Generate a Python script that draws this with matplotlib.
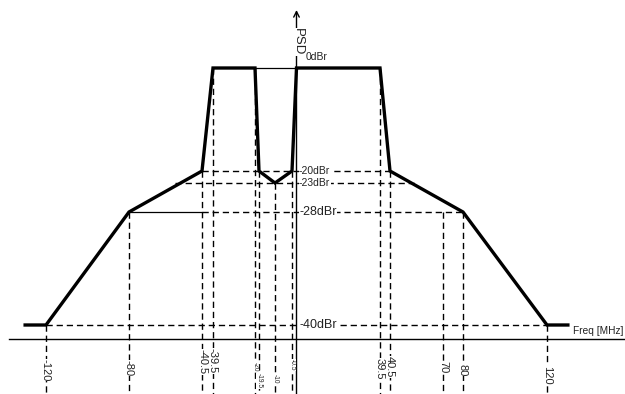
#!/usr/bin/env python3
"""
Spectrum mask sketch: relative PSD (dBr) against frequency offset (MHz)
"""

import numpy as np
import matplotlib.pyplot as plt

# Mask corner points: frequency offset [MHz] and level [dBr]
mask_freq = [-130, -120, -80, -40.5, -39.5, -20, -19.5, -10, -0.5, 0, 39.5, 40.5, 80, 120, 130]
mask_level = [-40, -40, -28, -20, 0, 0, -20, -23, -20, 0, 0, -20, -28, -40, -40]

# Frequencies marked under the axis, and the level their guide line starts from
tick_freq = [-120, -80, -40.5, -39.5, -20, -19.5, -10, -0.5, 39.5, 40.5, 70, 80, 120]
tick_level = [-40, -28, -20, 0, 0, -20, -23, -20, 0, -20, -28, -28, -40]
tick_text = ['-120', '-80', '-40.5', '-39.5', '-20', '-19.5', '-10', '-0.5',
             '39.5', '40.5', '70', '80', '120']

# Reference levels written next to the PSD axis
level_db = [0, -20, -23, -28, -40]
level_text = ['0dBr', '-20dBr', '-23dBr', '-28dBr', '-40dBr']

# The sketch is not to scale: piecewise-linear axes, anchors read off the picture
yscale_db = [-100, -40, -28, -23, -20, 0, 60]
yscale_pos = [-138, 69, 182, 211, 223, 326, 626]
xscale_mhz = [-200, -120, -80, -40.5, -39.5, -20, -19.5, -10, -0.5, 0,
              39.5, 40.5, 70, 80, 120, 200]
xscale_pos = [-121, 46, 129, 202, 213, 255, 259, 275, 292, 296.5,
              380, 390, 443, 463, 547, 714]


def yfwd(v):
    return np.interp(v, yscale_db, yscale_pos)


def yinv(v):
    return np.interp(v, yscale_pos, yscale_db)


def xfwd(v):
    return np.interp(v, xscale_mhz, xscale_pos)


def xinv(v):
    return np.interp(v, xscale_pos, xscale_mhz)


def main():
    plt.rcParams['font.family'] = ['Liberation Sans', 'DejaVu Sans']
    W, H = 625, 394
    fig = plt.figure(figsize=(W / 100, H / 100), dpi=100)
    ax = fig.add_axes([0, 0, 1, 1])
    ax.set_yscale('function', functions=(yfwd, yinv))
    ax.set_xscale('function', functions=(xfwd, xinv))
    ax.set_xlim(xinv(0), xinv(W))
    ax.set_ylim(-60, 13.6)
    ax.axis('off')

    xt = ax.get_xaxis_transform()  # x in MHz, y in axes fraction

    def py(ypix):
        return 1 - ypix / H

    dash = dict(color='black', lw=1.0, linestyle=(0, (4.5, 2.8)), zorder=1)
    thin = dict(color='black', lw=0.9, zorder=1)
    ink = '#222222'

    # outer slopes of the mask, used to find where each level line ends
    left_lv = mask_level[1:5]
    left_f = mask_freq[1:5]
    right_lv = mask_level[10:14][::-1]
    right_f = mask_freq[10:14][::-1]

    def span(lv):
        return np.interp(lv, left_lv, left_f), np.interp(lv, right_lv, right_f)

    # horizontal guides
    ax.plot([mask_freq[5], mask_freq[9]], [0, 0], **thin)
    for lv in [-20, -23, -40]:
        a, b = span(lv)
        ax.plot([a, b], [lv, lv], **dash)
    a28, b28 = span(-28)
    a20, _ = span(-20)
    ax.plot([a28, a20], [-28, -28], **thin)
    ax.plot([a20, b28], [-28, -28], **dash)

    # vertical guides down to the bottom edge
    for f, lv in zip(tick_freq, tick_level):
        ax.plot([f, f], [lv, -60], **dash)

    # frequency axis
    ax.plot([xinv(9), xinv(W)], [py(339), py(339)], transform=xt,
            color='black', lw=1.0, zorder=2)
    # PSD axis with arrow
    ax.annotate('', xy=(0, py(10)), xytext=(0, 0), xycoords=xt, textcoords=xt,
                arrowprops=dict(arrowstyle='->', lw=1.0, color='black',
                                shrinkA=0, shrinkB=0, mutation_scale=10),
                zorder=2)
    ax.text(0.5, py(42), 'PSD', rotation=270, transform=xt, fontsize=9.5,
            ha='center', va='center', color=ink, zorder=5,
            bbox=dict(facecolor='white', edgecolor='none', pad=0.2))
    ax.text(xinv(573), py(331), 'Freq [MHz]', transform=xt, fontsize=7.3,
            ha='left', va='center', color=ink)

    # the mask itself
    ax.plot(mask_freq, mask_level, color='black', lw=2.4, zorder=4,
            solid_joinstyle='miter')

    # level labels
    level_size = [7.5, 7.5, 7.5, 9, 9]
    for lv, txt, fs in zip(level_db, level_text, level_size):
        if lv == 0:
            ax.text(xinv(306), py(57), txt, transform=xt, fontsize=fs, ha='left',
                    va='center', color=ink)
        else:
            ax.text(xinv(299), lv, txt, fontsize=fs, ha='left', va='center',
                    color=ink, zorder=3,
                    bbox=dict(facecolor='white', edgecolor='none', pad=0.2))

    # frequency labels, written along the guide lines;
    # white patches go in first so neighbouring labels never hide each other
    label_y_px = [370, 368, 362, 361, 367, 381, 379, 365, 369, 367, 367, 370, 375]
    small = {'-20', '-19.5', '-10', '-0.5'}
    for layer in (0, 1):
        for f, txt, ypx in zip(tick_freq, tick_text, label_y_px):
            kw = dict(transform=xt, rotation=270, ha='center', va='center',
                      fontsize=4.8 if txt in small else 8)
            if layer == 0:
                ax.text(f, py(ypx), txt, color='none', zorder=2.5,
                        bbox=dict(facecolor='white', edgecolor='none', pad=0.0), **kw)
            else:
                ax.text(f, py(ypx), txt, color=ink, zorder=3, **kw)

    fig.savefig('out.png', dpi=100)
    plt.close(fig)


if __name__ == "__main__":
    main()
